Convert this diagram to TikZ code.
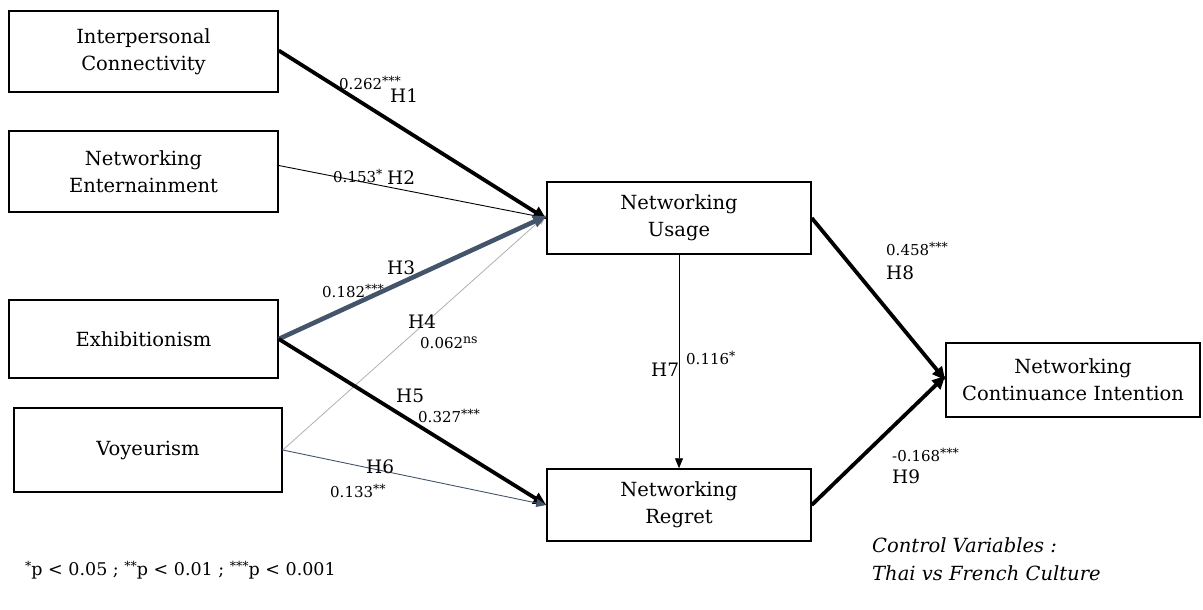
\documentclass[tikz,border=0pt]{standalone}
\usepackage{fontspec}
\setmainfont{DejaVu Serif}
\usetikzlibrary{arrows.meta}
\definecolor{slate}{HTML}{44546A}
\definecolor{lgray}{HTML}{B0B0B0}
\newcommand\mysup[1]{\raisebox{0.6ex}{\fontsize{12.5}{12.5}\selectfont #1}}
\begin{document}
\begin{tikzpicture}[x=1pt,y=-1pt,
  box/.style={draw, line width=1.5pt, align=center, inner sep=0pt,
    font=\fontsize{19.5}{27}\selectfont},
  coef/.style={anchor=west, inner sep=0pt, font=\fontsize{15}{16}\selectfont},
  hyp/.style={anchor=west, inner sep=0pt, font=\fontsize{18.5}{20}\selectfont},
  bigarr/.style={line width=3.8pt, -{Triangle[length=13pt,width=12pt]}},
  thinarr/.style={line width=0.9pt, -{Triangle[length=10pt,width=8pt]}},
]
\useasboundingbox (0,0) rectangle (1203,610);

% boxes
\node[box, minimum width=269pt, minimum height=81pt] (ic) at (143.5,51.5) {Interpersonal\\Connectivity};
\node[box, minimum width=269pt, minimum height=81pt] (ne) at (143.5,171.5) {Networking\\Enternainment};
\node[box, minimum width=269pt, minimum height=78pt] (ex) at (143.5,339) {Exhibitionism};
\node[box, minimum width=268pt, minimum height=84pt] (vo) at (148,450) {Voyeurism};
\node[box, minimum width=264pt, minimum height=72pt] (nu) at (679,218) {Networking\\Usage};
\node[box, minimum width=264pt, minimum height=72pt] (nr) at (679,505) {Networking\\Regret};
\node[box, minimum width=254pt, minimum height=74pt] (nci) at (1073,380) {Networking\\Continuance Intention};

% connectors
\draw[thinarr, color=lgray, line width=0.8pt] (vo.east) -- ([yshift=3pt]nu.west);
\draw[bigarr] ([yshift=1pt]ic.east) -- ([yshift=-1pt]nu.west);
\draw[thinarr] ([yshift=6pt]ne.east) -- (nu.west);
\draw[bigarr, color=slate, line width=4.6pt] (ex.east) -- ([yshift=2pt]nu.west);
\draw[bigarr] (ex.east) -- (nr.west);
\draw[thinarr, color=slate] (vo.east) -- (nr.west);
\draw[thinarr] (nu.south) -- (nr.north);
\draw[bigarr] (nu.east) -- (nci.west);
\draw[bigarr] (nr.east) -- ([yshift=4pt]nci.west);

% labels
\node[coef] (c1) at (339,83) {0.262\mysup{***}};
\node[hyp] (h1) at (390,96) {H1};
\node[coef] (c2) at (333,176) {0.153\mysup{*}};
\node[hyp] (h2) at (387,178) {H2};
\node[hyp] (h3) at (387,268) {H3};
\node[coef] (c3) at (322,291) {0.182\mysup{***}};
\node[hyp] (h4) at (408,322) {H4};
\node[coef] (c4) at (420,343) {0.062\mysup{ns}};
\node[hyp] (h5) at (396,396) {H5};
\node[coef] (c5) at (418,416) {0.327\mysup{***}};
\node[hyp] (h6) at (366,467) {H6};
\node[coef] (c6) at (330,491) {0.133\mysup{**}};
\node[hyp] (h7) at (651,370) {H7};
\node[coef] (c7) at (686,358) {0.116\mysup{*}};
\node[coef] (c8) at (886,249) {0.458\mysup{***}};
\node[hyp] (h8) at (886,273) {H8};
\node[coef] (c9) at (892,455) {-0.168\mysup{***}};
\node[hyp] (h9) at (892,477) {H9};

% footer
\node[anchor=west, inner sep=0pt, font=\fontsize{17.5}{19}\selectfont] (fn) at (25,570)
  {\mysup{*}p < 0.05 ; \mysup{**}p < 0.01 ; \mysup{***}p < 0.001};
\node[anchor=north west, inner sep=0pt, align=left, font=\fontsize{19.5}{28}\selectfont\itshape] (cv) at (872,537)
  {Control Variables :\\Thai vs French Culture};
\end{tikzpicture}
\end{document}
